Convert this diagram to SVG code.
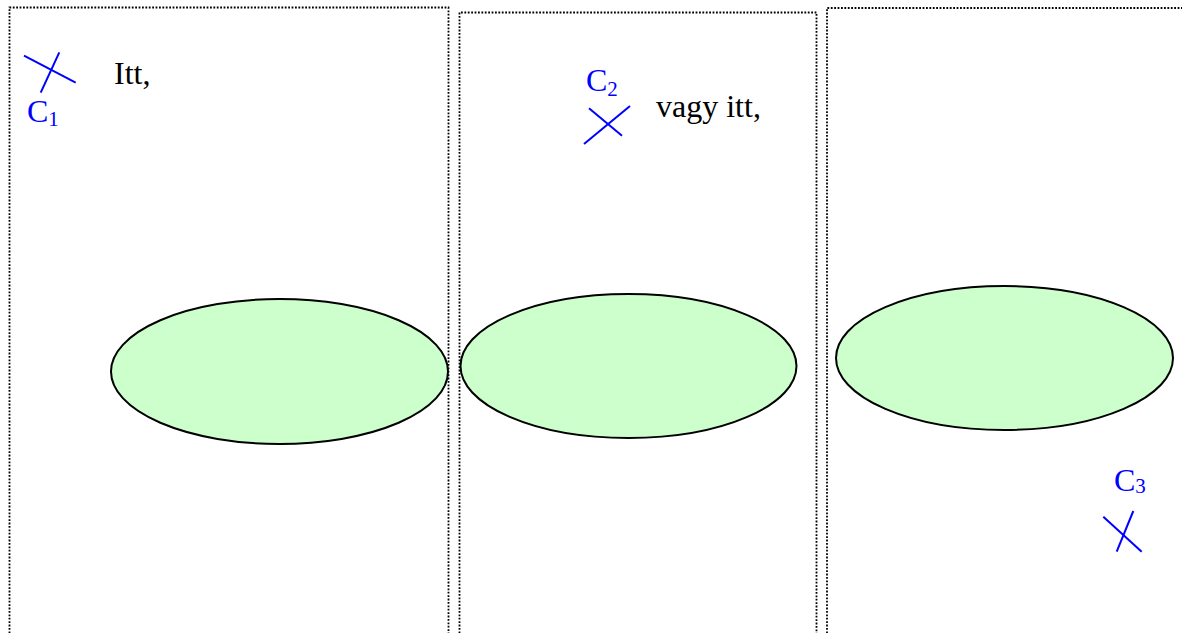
<svg xmlns="http://www.w3.org/2000/svg" width="1182" height="633" viewBox="0 0 1182 633">
<style>
.box{fill:none;stroke:#000;stroke-width:1.8;stroke-dasharray:1.8 1.6}
.ell{fill:#ccffcc;stroke:#000;stroke-width:2}
.x{stroke:#0000ff;stroke-width:2;fill:none}
.lbl{font-family:"Liberation Serif","Times New Roman",serif;fill:#0000ff;font-size:32px}
.sub{font-size:21px}
.txt{font-family:"Liberation Serif","Times New Roman",serif;fill:#000;font-size:32px}
</style>
<rect width="1182" height="633" fill="#fff"/>
<g id="panel1">
<path class="box" d="M9.5,640 V7.5 H448.5 V640"/>
<ellipse class="ell" cx="279.5" cy="371.5" rx="168.5" ry="72.5"/>
</g>
<g id="panel2">
<path class="box" d="M459.5,640 V12.5 H816.5 V640"/>
<ellipse class="ell" cx="628.5" cy="366" rx="168" ry="72"/>
</g>
<g id="panel3">
<path class="box" d="M827,640 V8 H1190"/>
<ellipse class="ell" cx="1004.5" cy="358" rx="168.5" ry="72"/>
</g>
<g id="c1">
<line class="x" x1="24" y1="55.7" x2="75.7" y2="82.7"/>
<line class="x" x1="59.3" y1="52.3" x2="40.7" y2="92.7"/>
<text class="lbl" x="27" y="122">C<tspan class="sub" dy="4">1</tspan></text>
</g>
<g id="c2">
<line class="x" x1="589" y1="108.3" x2="622" y2="135.7"/>
<line class="x" x1="630" y1="106" x2="584" y2="144"/>
<text class="lbl" x="586" y="91">C<tspan class="sub" dy="5">2</tspan></text>
</g>
<g id="c3">
<line class="x" x1="1103.3" y1="516.7" x2="1141.7" y2="551.7"/>
<line class="x" x1="1133.3" y1="511" x2="1116.7" y2="551.7"/>
<text class="lbl" x="1114" y="491">C<tspan class="sub" dy="2">3</tspan></text>
</g>
<g id="labels">
<text class="txt" x="114" y="84">Itt,</text>
<text class="txt" x="656" y="117">vagy itt,</text>
</g>
<g id="connectors"></g>
</svg>
